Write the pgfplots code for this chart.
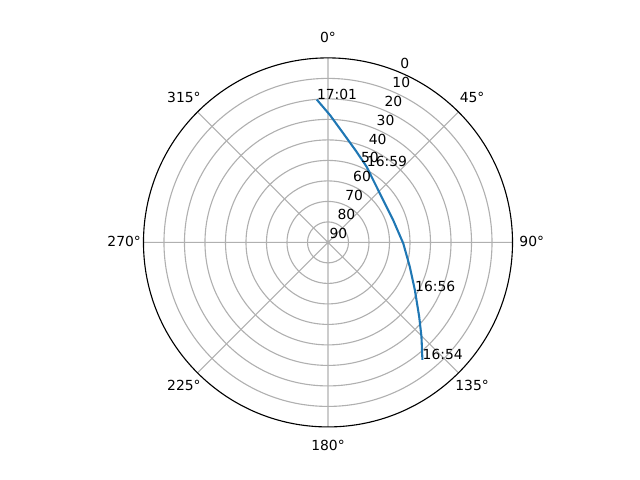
\documentclass[border=0pt]{standalone}
\usepackage{pgfplots}
\usepackage{pgfplotstable}
\pgfplotsset{compat=1.18}
\usepgfplotslibrary{polar}
\usepackage{fontspec}
\setmainfont{DejaVu Sans}
\definecolor{mplblue}{HTML}{1F77B4}
\definecolor{gridgray}{HTML}{B0B0B0}

\pgfplotstableread{
az el
141.2 16.5
135.2 25.3
129.1 32.7
118.7 41.7
106.5 48.4
90.7 53.3
71.1 56.4
52.5 56.1
41.2 54.0
27.1 48.6
17.6 43.7
8.0 36.3
0.9 27.9
-4.5 20.1
}\passdata

\begin{document}
\begin{tikzpicture}[font=\fontsize{10}{12}\selectfont]
\useasboundingbox (-236.16pt,-171.07pt) rectangle (224.64pt,174.53pt);
\begin{polaraxis}[
  at={(0,0)}, anchor=center,
  scale only axis, width=265.7pt, height=265.7pt,
  xmin=0, xmax=360, ymin=0, ymax=90,
  xtick={0,45,...,315}, ytick={10,20,...,80},
  xticklabels={}, yticklabels={},
  major tick length=0pt,
  grid=major,
  major grid style={draw=gridgray, line width=0.8pt},
  separate axis lines,
  x axis line style={black, line width=0.8pt},
  y axis line style={draw=none},
  clip=false,
]
\addplot[mplblue, line width=1.5pt, no markers] table[x expr={90-\thisrow{az}}, y expr={90-\thisrow{el}}] {\passdata};
% azimuth labels
\node[anchor=center, inner sep=0pt, yshift=0.8pt] at (axis cs:90,99.4) {0°};
\node[anchor=center, inner sep=0pt, yshift=0.8pt] at (axis cs:45,99.4) {45°};
\node[anchor=center, inner sep=0pt, yshift=0.8pt] at (axis cs:0,99.4) {90°};
\node[anchor=center, inner sep=0pt, yshift=0.8pt] at (axis cs:-45,99.4) {135°};
\node[anchor=center, inner sep=0pt, yshift=0.8pt] at (axis cs:-90,99.4) {180°};
\node[anchor=center, inner sep=0pt, yshift=0.8pt] at (axis cs:-135,99.4) {225°};
\node[anchor=center, inner sep=0pt, yshift=0.8pt] at (axis cs:180,99.4) {270°};
\node[anchor=center, inner sep=0pt, yshift=0.8pt] at (axis cs:135,99.4) {315°};
% radial labels
\node[anchor=south west, inner sep=0pt, xshift=1pt, yshift=2.3pt] at (axis cs:67.5,90) {0};
\node[anchor=south west, inner sep=0pt, xshift=1pt, yshift=2.3pt] at (axis cs:67.5,80) {10};
\node[anchor=south west, inner sep=0pt, xshift=1pt, yshift=2.3pt] at (axis cs:67.5,70) {20};
\node[anchor=south west, inner sep=0pt, xshift=1pt, yshift=2.3pt] at (axis cs:67.5,60) {30};
\node[anchor=south west, inner sep=0pt, xshift=1pt, yshift=2.3pt] at (axis cs:67.5,50) {40};
\node[anchor=south west, inner sep=0pt, xshift=1pt, yshift=2.3pt] at (axis cs:67.5,40) {50};
\node[anchor=south west, inner sep=0pt, xshift=1pt, yshift=2.3pt] at (axis cs:67.5,30) {60};
\node[anchor=south west, inner sep=0pt, xshift=1pt, yshift=2.3pt] at (axis cs:67.5,20) {70};
\node[anchor=south west, inner sep=0pt, xshift=1pt, yshift=2.3pt] at (axis cs:67.5,10) {80};
\node[anchor=south west, inner sep=0pt, xshift=1pt, yshift=2.3pt] at (axis cs:67.5,0) {90};
% time labels
\node[anchor=base west, inner sep=0pt] at (axis cs:{90-141.2},{90-16.5}) {16:54};
\node[anchor=base west, inner sep=0pt] at (axis cs:{90-119.5},{90-41.3}) {16:56};
\node[anchor=base west, inner sep=0pt] at (axis cs:{90-26.9},{90-48.3}) {16:59};
\node[anchor=base west, inner sep=0pt] at (axis cs:{90+4.5},{90-20.1}) {17:01};
\end{polaraxis}
\end{tikzpicture}
\end{document}
